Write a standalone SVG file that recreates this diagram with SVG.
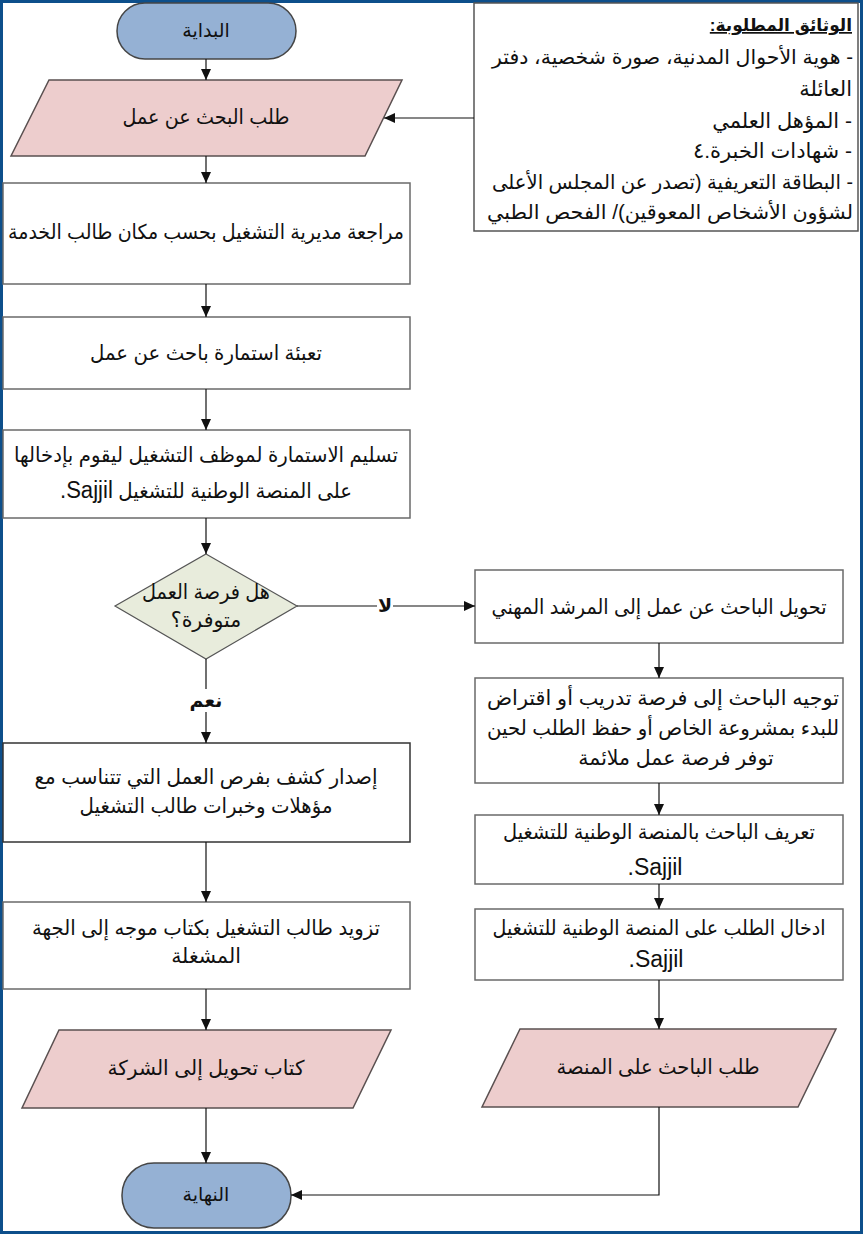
<svg xmlns="http://www.w3.org/2000/svg" width="863" height="1234" viewBox="0 0 863 1234">
<style>
text{font-family:"Liberation Sans","DejaVu Sans","Noto Sans",sans-serif;font-size:20.5px;fill:#111;}
.t{text-anchor:middle;}
.d{font-size:21px;}
.dl{font-size:20px;}
.lat{font-size:23px;}
.term{fill:#95B1D4;stroke:#454545;stroke-width:1.5;}
.io{fill:#EDCDCD;stroke:#5a5050;stroke-width:1.5;}
.box{fill:#fff;stroke:#6a6a6a;stroke-width:1.5;}
.dec{fill:#E8ECDC;stroke:#555;stroke-width:1.2;}
.c{fill:none;stroke:#111;stroke-width:1.2;}
.lbl{font-weight:bold;font-size:19px;}
</style>
<defs>
<marker id="ah" markerWidth="12" markerHeight="12" refX="11" refY="6" orient="auto" markerUnits="userSpaceOnUse">
<path d="M0,1 L11,6 L0,11 Z" fill="#111"/>
</marker>
</defs>
<rect x="0" y="0" width="863" height="1234" fill="#fff"/>
<rect x="1.5" y="1.5" width="860" height="1231" fill="none" stroke="#0D4F8B" stroke-width="3"/>

<g id="docs">
<rect x="474" y="3" width="384" height="228" fill="#fff" stroke="#555" stroke-width="1.5"/>
<text x="852" y="31" direction="rtl" style="font-weight:bold;text-decoration:underline;font-size:17px">الوثائق المطلوبة:</text>
<text x="853" y="64" direction="rtl" class="dl" textLength="361" lengthAdjust="spacingAndGlyphs">- هوية الأحوال المدنية، صورة شخصية، دفتر</text>
<text x="852" y="96" direction="rtl" class="d">العائلة</text>
<text x="852" y="128" direction="rtl" class="d">- المؤهل العلمي</text>
<text x="852" y="158" direction="rtl" class="d">- شهادات الخبرة.٤</text>
<text x="853" y="189" direction="rtl" class="dl" textLength="361" lengthAdjust="spacingAndGlyphs">- البطاقة التعريفية (تصدر عن المجلس الأعلى</text>
<text x="853" y="219" direction="rtl" class="dl" textLength="366" lengthAdjust="spacingAndGlyphs">لشؤون الأشخاص المعوقين)/ الفحص الطبي</text>
</g>

<g id="start">
<rect x="117" y="3" width="179" height="56" rx="28" class="term"/>
<text x="206" y="37" class="t" direction="rtl" style="font-size:19px">البداية</text>
</g>

<g id="request">
<polygon points="49,80 402,80 365,156 11,156" class="io"/>
<text x="206" y="124" class="t" direction="rtl" textLength="167" lengthAdjust="spacingAndGlyphs">طلب البحث عن عمل</text>
</g>

<g id="review">
<rect x="3" y="183" width="407" height="101" class="box"/>
<text x="206" y="239" class="t" direction="rtl" textLength="396" lengthAdjust="spacingAndGlyphs">مراجعة مديرية التشغيل بحسب مكان طالب الخدمة</text>
</g>

<g id="fill">
<rect x="3" y="317" width="407" height="72" class="box"/>
<text x="206" y="360" class="t" direction="rtl" textLength="232" lengthAdjust="spacingAndGlyphs">تعبئة استمارة باحث عن عمل</text>
</g>

<g id="submit">
<rect x="3" y="430" width="407" height="88" class="box"/>
<text x="206" y="462" class="t" direction="rtl" textLength="384" lengthAdjust="spacingAndGlyphs">تسليم الاستمارة لموظف التشغيل ليقوم بإدخالها</text>
<text x="206" y="498" class="t" direction="rtl" textLength="292" lengthAdjust="spacingAndGlyphs">على المنصة الوطنية للتشغيل <tspan class="lat">Sajjil.</tspan></text>
</g>

<g id="decision">
<polygon points="206,554 297,606 206,659 115,606" class="dec"/>
<text x="206" y="599" class="t" direction="rtl" textLength="128" lengthAdjust="spacingAndGlyphs">هل فرصة العمل</text>
<text x="206" y="627" class="t" direction="rtl">متوفرة؟</text>
</g>

<g id="list">
<rect x="3" y="743" width="407" height="99" class="box" style="stroke:#333"/>
<text x="206" y="784" class="t" direction="rtl" textLength="343" lengthAdjust="spacingAndGlyphs">إصدار كشف بفرص العمل التي تتناسب مع</text>
<text x="206" y="813" class="t" direction="rtl" textLength="253" lengthAdjust="spacingAndGlyphs">مؤهلات وخبرات طالب التشغيل</text>
</g>

<g id="letter">
<rect x="3" y="902" width="407" height="87" class="box"/>
<text x="206" y="935" class="t" direction="rtl" textLength="348" lengthAdjust="spacingAndGlyphs">تزويد طالب التشغيل بكتاب موجه إلى الجهة</text>
<text x="206" y="963" class="t" direction="rtl">المشغلة</text>
</g>

<g id="transferLetter">
<polygon points="59,1030 391,1030 353,1108 22,1108" class="io"/>
<text x="206" y="1075" class="t" direction="rtl" textLength="197" lengthAdjust="spacingAndGlyphs">كتاب تحويل إلى الشركة</text>
</g>

<g id="end">
<rect x="122" y="1163" width="169" height="65" rx="32" class="term"/>
<text x="206" y="1201" class="t" direction="rtl" style="font-size:19px">النهاية</text>
</g>

<g id="counselor">
<rect x="475" y="570" width="368" height="73" class="box"/>
<text x="659" y="614" class="t" direction="rtl" textLength="335" lengthAdjust="spacingAndGlyphs">تحويل الباحث عن عمل إلى المرشد المهني</text>
</g>

<g id="guide">
<rect x="475" y="678" width="368" height="105" class="box"/>
<text x="663" y="705" class="t" direction="rtl" textLength="352" lengthAdjust="spacingAndGlyphs">توجيه الباحث إلى فرصة تدريب أو اقتراض</text>
<text x="663" y="735" class="t" direction="rtl" textLength="352" lengthAdjust="spacingAndGlyphs">للبدء بمشروعة الخاص أو حفظ الطلب لحين</text>
<text x="676" y="765" class="t" direction="rtl">توفر فرصة عمل ملائمة</text>
</g>

<g id="introduce">
<rect x="475" y="815" width="368" height="69" class="box"/>
<text x="659" y="839" class="t" direction="rtl" textLength="312" lengthAdjust="spacingAndGlyphs">تعريف الباحث بالمنصة الوطنية للتشغيل</text>
<text x="655" y="875" class="t lat" direction="rtl">Sajjil.</text>
</g>

<g id="enter">
<rect x="475" y="909" width="368" height="71" class="box"/>
<text x="659" y="935" class="t" direction="rtl" textLength="333" lengthAdjust="spacingAndGlyphs">ادخال الطلب على المنصة الوطنية للتشغيل</text>
<text x="656" y="967" class="t lat" direction="rtl">Sajjil.</text>
</g>

<g id="platformRequest">
<polygon points="520,1029 836,1029 798,1107 482,1107" class="io"/>
<text x="658" y="1074" class="t" direction="rtl" textLength="203" lengthAdjust="spacingAndGlyphs">طلب الباحث على المنصة</text>
</g>

<g id="connectors">
<path d="M206,59 V80" class="c" marker-end="url(#ah)"/>
<path d="M474,118 H384" class="c" marker-end="url(#ah)"/>
<path d="M206,156 V183" class="c" marker-end="url(#ah)"/>
<path d="M206,284 V317" class="c" marker-end="url(#ah)"/>
<path d="M206,389 V430" class="c" marker-end="url(#ah)"/>
<path d="M206,518 V554" class="c" marker-end="url(#ah)"/>
<path d="M297,606 H377" class="c"/>
<path d="M393,606 H475" class="c" marker-end="url(#ah)"/>
<text x="385" y="612" class="t lbl" direction="rtl">لا</text>
<path d="M206,659 V689" class="c"/>
<path d="M206,712 V743" class="c" marker-end="url(#ah)"/>
<text x="206" y="707" class="t lbl" direction="rtl">نعم</text>
<path d="M206,842 V902" class="c" marker-end="url(#ah)"/>
<path d="M206,989 V1030" class="c" marker-end="url(#ah)"/>
<path d="M206,1108 V1163" class="c" marker-end="url(#ah)"/>
<path d="M659,643 V678" class="c" marker-end="url(#ah)"/>
<path d="M659,783 V815" class="c" marker-end="url(#ah)"/>
<path d="M659,884 V909" class="c" marker-end="url(#ah)"/>
<path d="M659,980 V1029" class="c" marker-end="url(#ah)"/>
<path d="M659,1107 V1195 H291" class="c" marker-end="url(#ah)"/>
</g>
</svg>
